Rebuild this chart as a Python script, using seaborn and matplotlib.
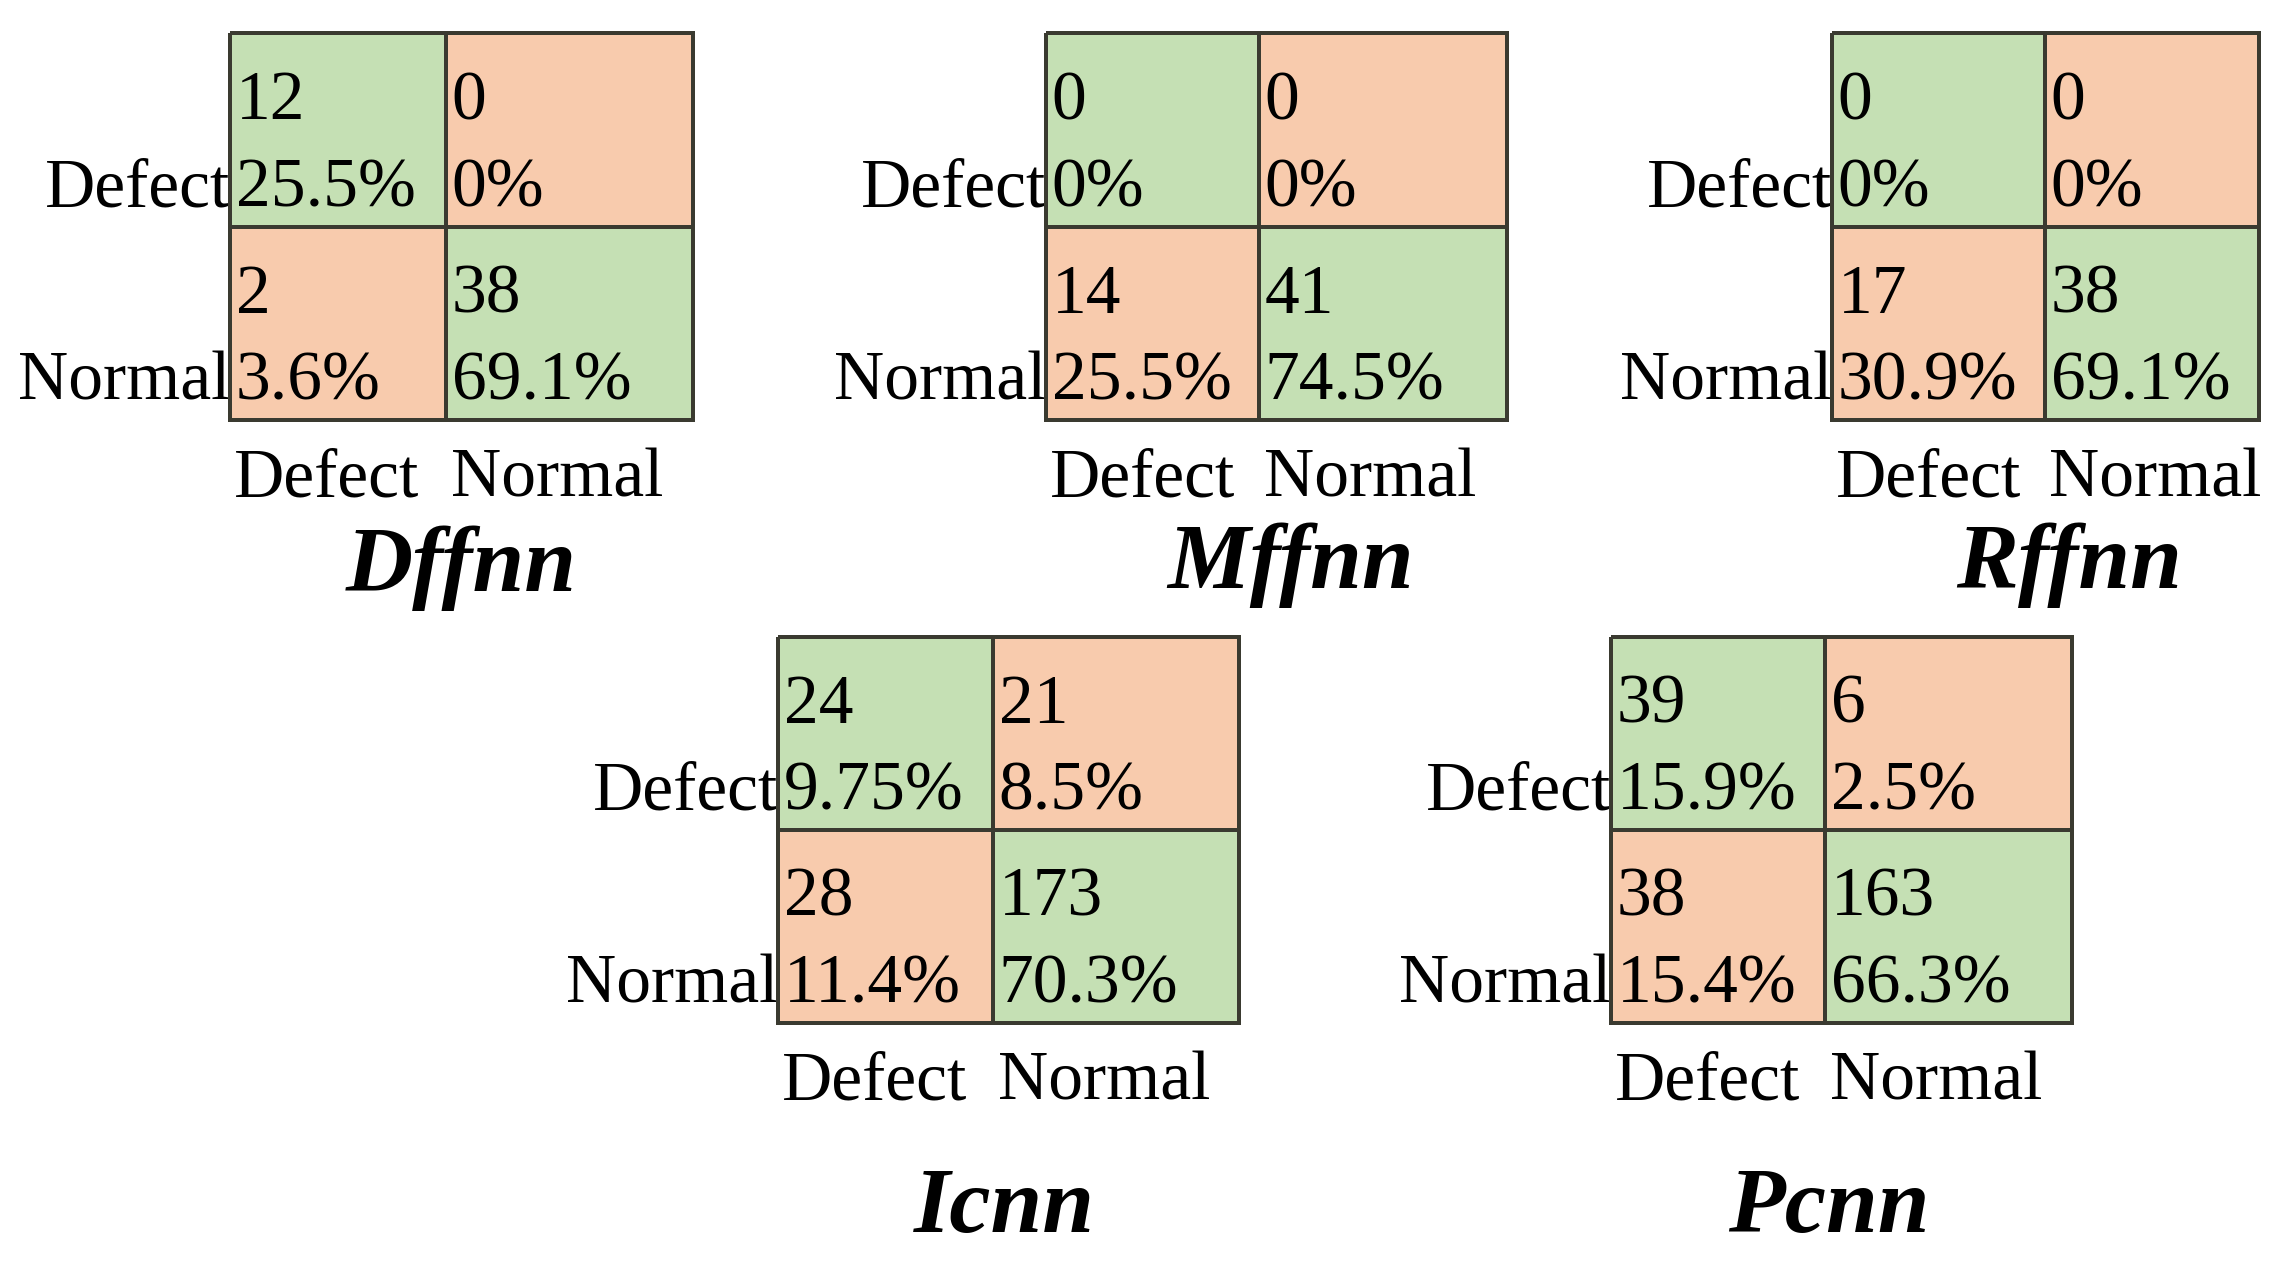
import numpy as np
import matplotlib
matplotlib.use("Agg")
import matplotlib.pyplot as plt
import seaborn as sns
from matplotlib.colors import ListedColormap

# ---------------- data ----------------
classes = ["Defect", "Normal"]
models = ["Dffnn", "Mffnn", "Rffnn", "Icnn", "Pcnn"]

dffnn_counts = [[12, 0], [2, 38]]
dffnn_pct = [["25.5%", "0%"], ["3.6%", "69.1%"]]
mffnn_counts = [[0, 0], [14, 41]]
mffnn_pct = [["0%", "0%"], ["25.5%", "74.5%"]]
rffnn_counts = [[0, 0], [17, 38]]
rffnn_pct = [["0%", "0%"], ["30.9%", "69.1%"]]
icnn_counts = [[24, 21], [28, 173]]
icnn_pct = [["9.75%", "8.5%"], ["11.4%", "70.3%"]]
pcnn_counts = [[39, 6], [38, 163]]
pcnn_pct = [["15.9%", "2.5%"], ["15.4%", "66.3%"]]

counts = [dffnn_counts, mffnn_counts, rffnn_counts, icnn_counts, pcnn_counts]
pcts = [dffnn_pct, mffnn_pct, rffnn_pct, icnn_pct, pcnn_pct]

# ---------------- style ----------------
sns.set_style("white")
plt.rcParams["font.family"] = ["Liberation Serif", "DejaVu Serif"]
plt.rcParams["text.color"] = "black"
plt.rcParams["xtick.color"] = "black"
plt.rcParams["ytick.color"] = "black"
plt.rcParams["xtick.labelcolor"] = "black"
plt.rcParams["ytick.labelcolor"] = "black"

GREEN = "#C5E0B4"
ORANGE = "#F8CBAD"
EDGE = "#3a3a30"

W, H = 2291, 1262
fig = plt.figure(figsize=(W / 100, H / 100), dpi=100)
fig.patch.set_facecolor("white")

# pixel layout: left, top, right, bottom, middle x, title centre x, title baseline y
layout = [
    (230, 33, 693, 420, 446, 461, 591),
    (1046, 33, 1507, 420, 1259, 1291, 588),
    (1832, 33, 2259, 420, 2045, 2069, 588),
    (778, 637, 1239, 1023, 993, 1004, 1232),
    (1611, 637, 2072, 1023, 1825, 1829, 1232),
]

CELL_FS = 50
TICK_FS = 50
TITLE_FS = 67


def make_scale(w0):
    def fwd(x):
        x = np.asarray(x, dtype=float)
        return np.where(x <= 1, x * w0, w0 + (x - 1) * (2 - w0))

    def inv(y):
        y = np.asarray(y, dtype=float)
        return np.where(y <= w0, y / w0, 1 + (y - w0) / (2 - w0))

    return fwd, inv


for name, cnt, pct, (l, t, r, b, mx, tcx, tby) in zip(models, counts, pcts, layout):
    ax = fig.add_axes([l / W, 1 - b / H, (r - l) / W, (b - t) / H])
    correct = np.eye(len(classes))
    sns.heatmap(correct, ax=ax, cmap=ListedColormap([ORANGE, GREEN]), vmin=0, vmax=1,
                cbar=False, linewidths=2.8, linecolor=EDGE, square=False)
    ax.collections[0].set_clip_on(False)

    w0 = 2 * (mx - l) / (r - l)
    fwd, inv = make_scale(w0)
    ax.set_xscale("function", functions=(fwd, inv))
    ax.set_xlim(0, 2)
    ax.set_ylim(2, 0)

    for i in range(2):
        for j in range(2):
            ax.annotate(str(cnt[i][j]), (j, i + 0.445), xytext=(4, 0),
                        textcoords="offset points", ha="left", va="baseline",
                        fontsize=CELL_FS, color="black")
            ax.annotate(pct[i][j], (j, i + 0.895), xytext=(4, 0),
                        textcoords="offset points", ha="left", va="baseline",
                        fontsize=CELL_FS, color="black")

    ax.set_yticks([0.895, 1.895])
    ax.set_yticklabels(classes, fontsize=TICK_FS, rotation=0, color="black")
    for lab in ax.get_yticklabels():
        lab.set_va("baseline")
    ax.set_xticks([0.02, 1.02])
    ax.set_xticklabels(classes, fontsize=TICK_FS, rotation=0, ha="left", color="black")
    ax.tick_params(axis="both", length=0)
    ax.tick_params(axis="y", pad=0)
    ax.tick_params(axis="x", pad=20)
    ax.set_xlabel("")
    ax.set_ylabel("")

    fig.text(tcx / W, 1 - tby / H, name, ha="center", va="baseline", color="black",
             fontsize=TITLE_FS, fontweight="bold", fontstyle="italic")

fig.savefig("out.png", dpi=100, facecolor="white")
